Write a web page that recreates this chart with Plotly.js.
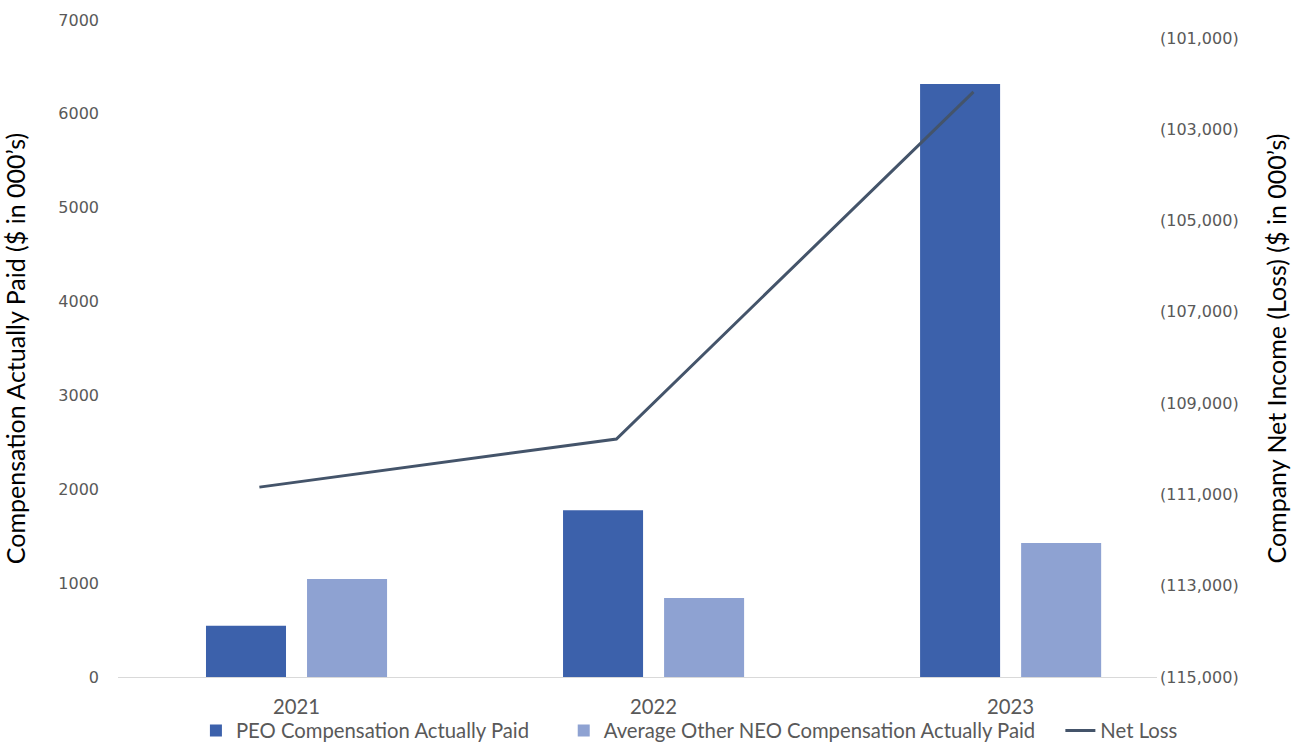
<!DOCTYPE html>
<html>
<head>
<meta charset="utf-8">
<script src="https://cdn.plot.ly/plotly-3.0.1.min.js"></script>
<style>html,body{margin:0;padding:0;background:#fff;}#chart{width:1305px;height:744px;}</style>
</head>
<body>
<div id="chart"></div>
<script>
const years = ["2021", "2022", "2023"];
const peoComp = [547, 1776, 6318];
const neoComp = [1044, 842, 1428];
const netLoss = [-110840, -109785, -102180];
const leftTicks = [0, 1000, 2000, 3000, 4000, 5000, 6000, 7000];
const rightTickVals = [-115000, -113000, -111000, -109000, -107000, -105000, -103000, -101000];
const rightTickText = ["(115,000)", "(113,000)", "(111,000)", "(109,000)", "(107,000)", "(105,000)", "(103,000)", "(101,000)"];

const titleFont = {family: "Lato, 'Liberation Sans Narrow', sans-serif", size: 25, color: "#000000"};
const tickFont = {family: "'DejaVu Sans', Verdana, sans-serif", size: 16, color: "#595959"};
const catFont = {family: "Lato, 'Liberation Sans Narrow', sans-serif", size: 20.3, color: "#595959"};

const data = [
  {type: "bar", name: "PEO Compensation Actually Paid", x: years, y: peoComp,
   marker: {color: "#3C61AB"}, xaxis: "x", yaxis: "y", legend: "legend"},
  {type: "bar", name: "Average Other NEO Compensation Actually Paid", x: years, y: neoComp,
   marker: {color: "#8EA2D2"}, xaxis: "x", yaxis: "y", legend: "legend2"},
  {type: "scatter", mode: "lines", name: "Net Loss", x: years, y: netLoss,
   line: {color: "#44546A", width: 3}, xaxis: "x2", yaxis: "y2", legend: "legend3"}
];

function legendAt(xp) {
  return {orientation: "h", x: xp, xanchor: "left", y: -0.082, yanchor: "middle",
          font: catFont, bgcolor: "rgba(0,0,0,0)"};
}

const layout = {
  width: 1305, height: 744,
  margin: {l: 118, r: 148, t: 20, b: 67, autoexpand: false},
  paper_bgcolor: "#ffffff", plot_bgcolor: "#ffffff",
  barmode: "group", bargap: 0.434, bargroupgap: 0.208,
  showlegend: true,
  legend: legendAt(0.075),
  legend2: legendAt(0.429),
  legend3: legendAt(0.907),
  xaxis: {type: "category", range: [-0.5, 2.41], showgrid: false, zeroline: false,
          showline: true, linecolor: "#D9D9D9", linewidth: 1, ticks: "",
          tickfont: catFont, ticklabelstandoff: 12, fixedrange: true, automargin: false},
  xaxis2: {type: "category", overlaying: "x", range: [-0.396, 2.514], visible: false},
  yaxis: {range: [0, 7000], tickvals: leftTicks, showgrid: false, zeroline: false,
          showline: false, ticks: "", tickfont: tickFont, ticklabelstandoff: 18, automargin: false,
          title: {text: "Compensation Actually Paid ($ in 000’s)", font: titleFont, standoff: 48}},
  yaxis2: {overlaying: "y", side: "right", range: [-115000, -100606],
           tickvals: rightTickVals, ticktext: rightTickText, showgrid: false, zeroline: false,
           showline: false, ticks: "", tickfont: tickFont, ticklabelstandoff: 2, automargin: false,
           title: {text: "Company Net Income (Loss) ($ in 000’s)", font: titleFont, standoff: 30}}
};

Plotly.newPlot("chart", data, layout, {displayModeBar: false, staticPlot: true});
</script>
</body>
</html>
